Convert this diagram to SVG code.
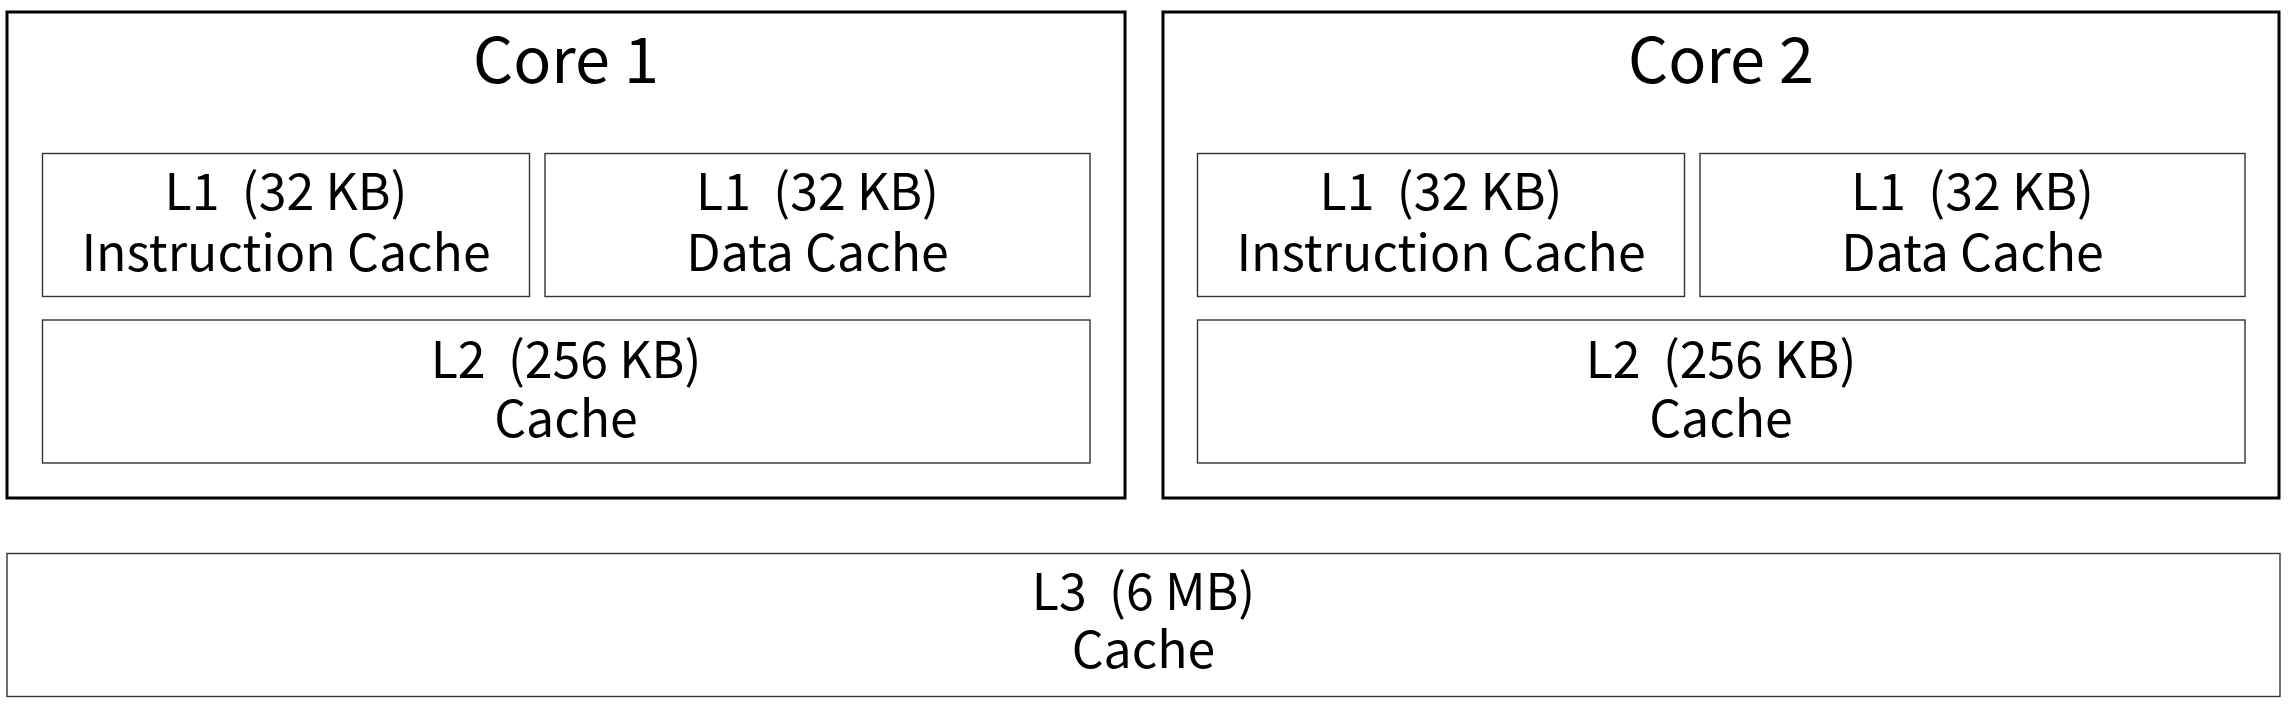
<svg xmlns="http://www.w3.org/2000/svg" width="2288" height="710" viewBox="0 0 2288 710">
<style>
.core{fill:#fff;stroke:#000;stroke-width:3}
.box{fill:#fff;stroke:#333;stroke-width:1.4}
text{font-family:"Noto Sans CJK SC","Source Sans Pro","Noto Sans",sans-serif;fill:#000;text-anchor:middle;white-space:pre}
.t{font-size:50px}
.h{font-size:63px}
</style>
<rect width="2288" height="710" fill="#fff"/>
<g id="core1">
<rect class="core" x="7" y="12" width="1118" height="486"/>
<text class="h" x="566" y="83">Core 1</text>
</g>
<g id="core1-l1i">
<rect class="box" x="42.5" y="153.5" width="487" height="143"/>
<text class="t" x="286" y="210">L1  (32 KB)</text>
<text class="t" x="286" y="271">Instruction Cache</text>
</g>
<g id="core1-l1d">
<rect class="box" x="545" y="153.5" width="545" height="143"/>
<text class="t" x="817.5" y="210">L1  (32 KB)</text>
<text class="t" x="817.5" y="271">Data Cache</text>
</g>
<g id="core1-l2">
<rect class="box" x="42.5" y="320" width="1047.5" height="143"/>
<text class="t" x="566" y="378">L2  (256 KB)</text>
<text class="t" x="566" y="437">Cache</text>
</g>
<g id="core2">
<rect class="core" x="1163" y="12" width="1116" height="486"/>
<text class="h" x="1721" y="83">Core 2</text>
</g>
<g id="core2-l1i">
<rect class="box" x="1197.5" y="153.5" width="487" height="143"/>
<text class="t" x="1441" y="210">L1  (32 KB)</text>
<text class="t" x="1441" y="271">Instruction Cache</text>
</g>
<g id="core2-l1d">
<rect class="box" x="1700" y="153.5" width="545" height="143"/>
<text class="t" x="1972.5" y="210">L1  (32 KB)</text>
<text class="t" x="1972.5" y="271">Data Cache</text>
</g>
<g id="core2-l2">
<rect class="box" x="1197.5" y="320" width="1047.5" height="143"/>
<text class="t" x="1721" y="378">L2  (256 KB)</text>
<text class="t" x="1721" y="437">Cache</text>
</g>
<g id="l3">
<rect class="box" x="7" y="553.5" width="2273" height="143"/>
<text class="t" x="1143.5" y="610">L3  (6 MB)</text>
<text class="t" x="1143.5" y="668">Cache</text>
</g>
<g id="connectors"/>
</svg>
